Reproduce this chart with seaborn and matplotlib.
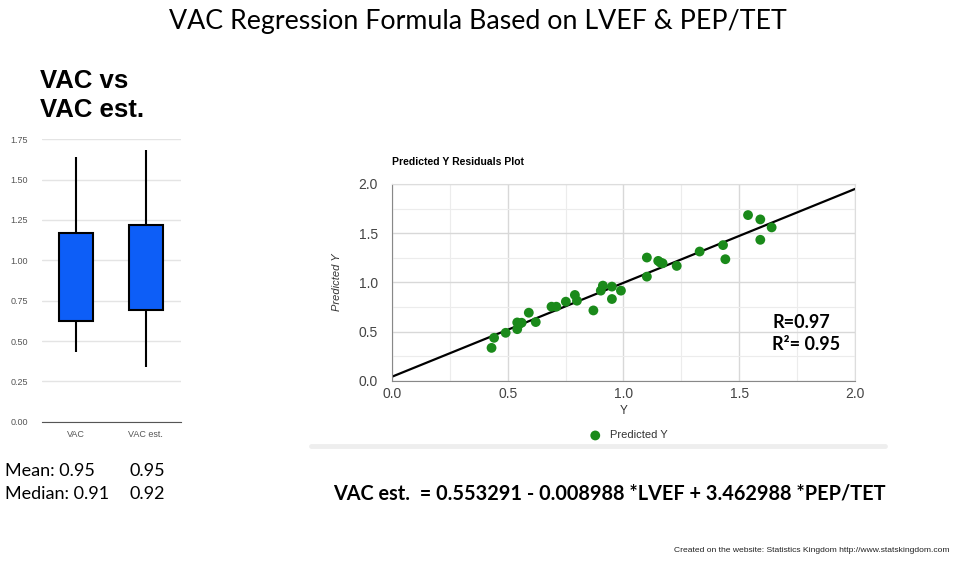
import numpy as np
import pandas as pd
import matplotlib
matplotlib.use("Agg")
import matplotlib.pyplot as plt
import seaborn as sns

vac = [0.43, 0.441, 0.491, 0.541, 0.541, 0.548, 0.560, 0.591, 0.621, 0.689,
       0.710, 0.751, 0.790, 0.799, 0.870, 0.902, 0.911, 0.950, 0.950, 0.989,
       1.101, 1.101, 1.150, 1.159, 1.169, 1.230, 1.329, 1.430, 1.440, 1.538,
       1.591, 1.591, 1.640]
vac_est = [0.336, 0.438, 0.489, 0.594, 0.526, 0.574, 0.591, 0.693, 0.598, 0.754,
           0.754, 0.805, 0.873, 0.815, 0.716, 0.917, 0.968, 0.958, 0.832, 0.917,
           1.253, 1.059, 1.219, 1.202, 1.195, 1.168, 1.314, 1.379, 1.236, 1.684,
           1.640, 1.433, 1.559]

groups = ["VAC", "VAC est."]
mean_labels = ["0.95", "0.95"]
median_labels = ["0.91", "0.92"]
r_text = "R=0.97"
r2_text = "R\u00b2= 0.95"
formula = "VAC est.  = 0.553291 - 0.008988 *LVEF + 3.462988 *PEP/TET"

box_ticks = [0.0, 0.25, 0.5, 0.75, 1.0, 1.25, 1.5, 1.75]
sc_ticks = [0.0, 0.5, 1.0, 1.5, 2.0]
sc_minor = [0.25, 0.75, 1.25, 1.75]

sns.set_style("white")
plt.rcParams["font.family"] = ["Liberation Sans", "DejaVu Sans"]
plt.rcParams["text.color"] = "black"

long_df = pd.DataFrame({
    "group": [groups[0]] * len(vac) + [groups[1]] * len(vac_est),
    "value": vac + vac_est,
})
sc_df = pd.DataFrame({"Y": vac, "Predicted Y": vac_est})

fig = plt.figure(figsize=(9.57, 5.61), dpi=100)

# ---- box plot panel ----
ax_box = fig.add_axes([0.0436, 0.2483, 0.1452, 0.5034])
sns.boxplot(data=long_df, x="group", y="value", order=groups, ax=ax_box,
            color="#0d5ef7", saturation=1, linecolor="black", linewidth=1.5,
            width=0.48, whis=(0, 100), showcaps=False,
            medianprops={"linewidth": 0})
ax_box.set_ylim(0, 1.75)
ax_box.set_xlim(-0.49, 1.5)
ax_box.set_yticks(box_ticks)
ax_box.set_yticklabels([f"{t:.2f}" for t in box_ticks])
ax_box.yaxis.grid(True, color="#e4e4e4", linewidth=1)
ax_box.set_axisbelow(True)
ax_box.set_xlabel("")
ax_box.set_ylabel("")
for s in ["left", "right", "top"]:
    ax_box.spines[s].set_visible(False)
ax_box.spines["bottom"].set_color("#555555")
ax_box.tick_params(axis="both", length=0, labelsize=6.5, colors="#555555")
ax_box.tick_params(axis="y", pad=10)
ax_box.tick_params(axis="x", pad=6)

fig.text(0.042, 1 - 69 / 561, "VAC vs\nVAC est.", fontsize=18.5, fontweight="bold",
         ha="left", va="top", linespacing=1.28)

fig.text(5 / 957, 1 - 471 / 561, "Mean: " + mean_labels[0], family="Lato",
         fontsize=13, va="center")
fig.text(129 / 957, 1 - 471 / 561, mean_labels[1], family="Lato",
         fontsize=13, va="center")
fig.text(5 / 957, 1 - 494 / 561, "Median: " + median_labels[0], family="Lato",
         fontsize=13, va="center")
fig.text(129 / 957, 1 - 494 / 561, median_labels[1], family="Lato",
         fontsize=13, va="center")

# ---- residuals scatter panel ----
ax_sc = fig.add_axes([0.4096, 0.3209, 0.4838, 0.3512])
ax_sc.set_xlim(0, 2)
ax_sc.set_ylim(0, 2)
ax_sc.set_xticks(sc_ticks)
ax_sc.set_yticks(sc_ticks)
ax_sc.set_xticks(sc_minor, minor=True)
ax_sc.set_yticks(sc_minor, minor=True)
ax_sc.grid(True, which="major", color="#d8d8d8", linewidth=1)
ax_sc.grid(True, which="minor", color="#ececec", linewidth=0.8)
ax_sc.set_axisbelow(True)
sns.regplot(data=sc_df, x="Y", y="Predicted Y", ax=ax_sc, scatter=False,
            ci=None, truncate=False, line_kws={"color": "black", "linewidth": 1.6})
sns.scatterplot(data=sc_df, x="Y", y="Predicted Y", ax=ax_sc, color="#1a8a1a",
                s=50, edgecolor="none", label="Predicted Y", zorder=3)
ax_sc.set_xlim(0, 2)
ax_sc.set_ylim(0, 2)
ax_sc.set_xticklabels([f"{t:.1f}" for t in sc_ticks])
ax_sc.set_yticklabels([f"{t:.1f}" for t in sc_ticks])
ax_sc.tick_params(axis="both", which="both", length=0, labelsize=10, colors="#444444")
ax_sc.tick_params(axis="y", pad=10)
ax_sc.tick_params(axis="x", pad=4)
for s in ["left", "bottom"]:
    ax_sc.spines[s].set_color("#888888")
for s in ["right", "top"]:
    ax_sc.spines[s].set_color("#dddddd")
ax_sc.set_xlabel("Y", fontsize=8.5, color="#333333", labelpad=3)
ax_sc.set_ylabel("Predicted Y", fontsize=8, color="#333333", style="italic", labelpad=12)
ax_sc.legend(loc="upper center", bbox_to_anchor=(0.505, -0.2), frameon=False,
             fontsize=8, handletextpad=0.3, markerscale=1.0, labelcolor="#333333")

ax_sc.text(0.0, 1.11, "Predicted Y Residuals Plot", transform=ax_sc.transAxes,
           fontsize=7.5, fontweight="bold", ha="left", va="center")
ax_sc.text(772 / 957, 1 - 322 / 561, r_text, transform=fig.transFigure,
           family="Lato", fontsize=13, fontweight="bold", va="center")
ax_sc.text(772 / 957, 1 - 345 / 561, r2_text, transform=fig.transFigure,
           family="Lato", fontsize=13, fontweight="bold", va="center")

# separator band under the residuals plot
fig.add_artist(plt.Line2D([311 / 957, 885 / 957], [1 - 446 / 561, 1 - 446 / 561],
                          color="#eeeeee", linewidth=3.5))

fig.text(0.499, 1 - 22 / 561, "VAC Regression Formula Based on LVEF & PEP/TET",
         family="Lato", fontsize=19.3, ha="center", va="center")
fig.text(333 / 957, 1 - 493 / 561, formula, family="Lato", fontsize=14.3,
         fontweight="bold", ha="left", va="center")
fig.text(950 / 957, 1 - 550 / 561,
         "Created on the website: Statistics Kingdom http://www.statskingdom.com",
         fontsize=6.1, ha="right", va="center", color="#222222")

fig.savefig("out.png", dpi=100)
